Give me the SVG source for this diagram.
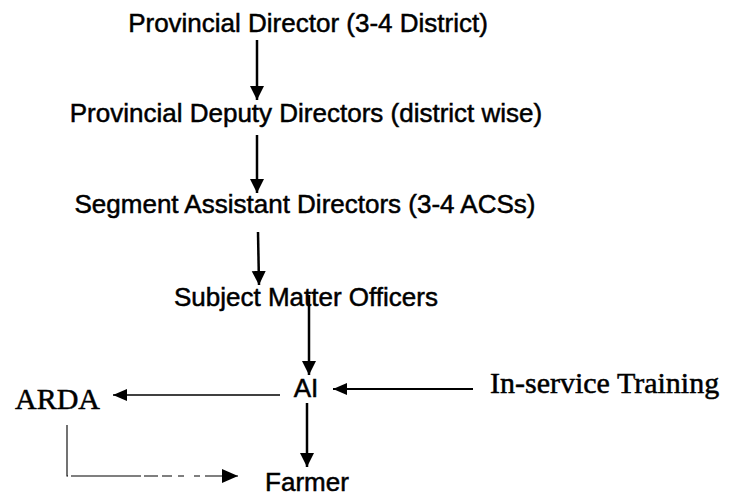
<svg xmlns="http://www.w3.org/2000/svg" width="738" height="498" viewBox="0 0 738 498">
  <style>
    .sans { font-family: "Liberation Sans", Arial, sans-serif; font-size: 26px; fill: #000; stroke: #000; stroke-width: 0.5; text-anchor: middle; }
    .serif { font-family: "Liberation Serif", "Times New Roman", serif; font-size: 30px; fill: #000; stroke: #000; stroke-width: 0.5; }
    .thick { stroke: #000; stroke-width: 2.5; fill: none; }
    .thin { stroke: #000; stroke-width: 1.4; fill: none; }
    .mid { stroke: #000; stroke-width: 2; fill: none; }
    .dash { stroke: #000; stroke-width: 1.1; fill: none; }
  </style>
  <defs>
    <marker id="headV" markerUnits="userSpaceOnUse" markerWidth="16" markerHeight="16" refX="14" refY="7" orient="auto">
      <path d="M0,0 L14,7 L0,14 Z" fill="#000"/>
    </marker>
    <marker id="headH" markerUnits="userSpaceOnUse" markerWidth="16" markerHeight="14" refX="14" refY="6" orient="auto">
      <path d="M0,0 L14,6 L0,12 Z" fill="#000"/>
    </marker>
    <marker id="headD" markerUnits="userSpaceOnUse" markerWidth="18" markerHeight="16" refX="16" refY="7" orient="auto">
      <path d="M0,0 L16,7 L0,14 Z" fill="#000"/>
    </marker>
  </defs>

  <g id="node-provincial-director"><text class="sans" x="308" y="32">Provincial Director (3-4 District)</text></g>
  <g id="node-deputy-directors"><text class="sans" x="306" y="122">Provincial Deputy Directors (district wise)</text></g>
  <g id="node-segment-assistant"><text class="sans" x="305" y="213">Segment Assistant Directors (3-4 ACSs)</text></g>
  <g id="node-subject-matter"><text class="sans" x="306" y="306">Subject Matter Officers</text></g>
  <g id="node-ai"><text class="sans" x="306" y="397">AI</text></g>
  <g id="node-farmer"><text class="sans" x="307" y="491">Farmer</text></g>
  <g id="node-arda"><text class="serif" x="15" y="409">ARDA</text></g>
  <g id="node-inservice"><text class="serif" x="490" y="393">In-service Training</text></g>

  <g id="connectors">
    <line class="thick" x1="257" y1="40" x2="257" y2="100" marker-end="url(#headV)"/>
    <line class="thick" x1="257" y1="135" x2="257" y2="193" marker-end="url(#headV)"/>
    <line class="thick" x1="258" y1="232" x2="259" y2="285" marker-end="url(#headV)"/>
    <line class="thick" x1="309" y1="295" x2="309" y2="375" marker-end="url(#headV)"/>
    <line class="thin" x1="280" y1="395" x2="113" y2="395" marker-end="url(#headH)"/>
    <line class="mid" x1="473" y1="389" x2="333" y2="389" marker-end="url(#headH)"/>
    <line class="thick" x1="307" y1="403" x2="307" y2="467" marker-end="url(#headV)"/>
    <path class="dash" d="M67,425 V476 H200" stroke-dasharray="52 3 70 3 14 4 10 6 6 10 8 30"/>
    <line class="dash" x1="205" y1="476" x2="238" y2="476" stroke="none" marker-end="url(#headD)"/>
  </g>
</svg>
